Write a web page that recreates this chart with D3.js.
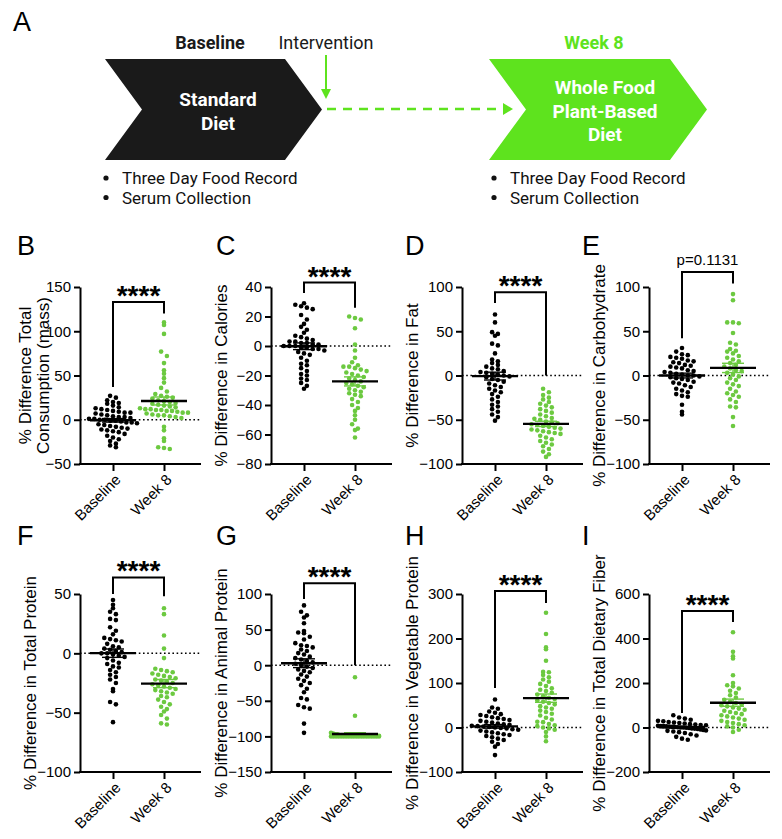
<!DOCTYPE html>
<html><head><meta charset="utf-8">
<script src="https://cdn.jsdelivr.net/npm/d3@7"></script>
<style>
body{margin:0;background:#fff}
text{font-family:"Liberation Sans",Arial,sans-serif}
.diag text{font-family:Roboto,"Liberation Sans",sans-serif}
</style>
</head><body>
<svg id="c" width="782" height="839"></svg>
<script>
// ---------------- data ----------------
const categories = ["Baseline", "Week 8"];
const panelLetters = ["B","C","D","E","F","G","H","I"];
const yLabels = [
  ["% Difference Total","Consumption (mass)"],
  ["% Difference in Calories"],
  ["% Difference in Fat"],
  ["% Difference in Carbohydrate"],
  ["% Difference in Total Protein"],
  ["% Difference in Animal Protein"],
  ["% Difference in Vegetable Protein"],
  ["% Difference in Total Dietary Fiber"]
];
const yDomains = [[-50,150],[-80,40],[-100,100],[-100,100],[-100,50],[-150,100],[-100,300],[-200,600]];
const yTicks = [
  [-50,0,50,100,150],
  [-80,-60,-40,-20,0,20,40],
  [-100,-50,0,50,100],
  [-100,-50,0,50,100],
  [-100,-50,0,50],
  [-150,-100,-50,0,50,100],
  [-100,0,100,200,300],
  [-200,0,200,400,600]
];
const sigLabels = ["****","****","****","p=0.1131","****","****","****","****"];
// bracket: [top, left leg end, right leg end] in data units
const brackets = [[133,37,120],[43,36,26],[94,82,0],[117,42,104],[64,50,48],[115,93,0],[307,89,280],[524,65,474]];

const bBase = [27,25,22,20,19,18,16,14,13,12,11,10,9,8,8,7,6,5,4,3,3,2,1,1,0,0,-1,-1,-2,-3,-3,-4,-5,-6,-7,-8,-9,-10,-11,-12,-13,-14,-16,-18,-20,-22,-24,-27,-29,-31];
const bWk8 = [110,107,97,77,72,64,56,52,47,42,36,32,29,27,26,25,24,22,21,20,19,18,17,16,15,14,13,12,11,10,9,8,7,6,5,4,3,2,11,12,10,8,5,-8,-12,-21,-24,-31,-32,-33];
const cBase = [29,28,27,26,25,21,18,15,13,11,9,7,6,5,4,3,3,2,2,1,1,0,0,0,-1,-1,-2,-2,-3,-4,-5,-6,-8,-10,-12,-13,-15,-17,-19,-20,-22,-23,-25,-27,-29];
const cWk8 = [20,19,18,12,1,-3,-8,-11,-13,-14,-14,-15,-16,-17,-18,-19,-20,-21,-22,-23,-24,-25,-26,-27,-28,-29,-30,-31,-32,-33,-34,-36,-38,-40,-42,-44,-47,-50,-53,-56,-57,-62];
const dBase = [69,60,49,47,45,36,34,25,18,16,14,12,10,8,7,5,4,3,2,1,0,-1,-2,-4,-5,-7,-9,-11,-13,-15,-17,-19,-21,-24,-27,-30,-33,-35,-38,-41,-44,-47,-51];
const dWk8 = [-15,-19,-22,-25,-27,-30,-32,-34,-36,-38,-40,-42,-44,-46,-48,-49,-50,-52,-53,-54,-55,-56,-57,-58,-59,-60,-61,-62,-63,-64,-65,-66,-68,-70,-72,-74,-76,-78,-80,-83,-86,-89,-92];
const eBase = [31,27,24,23,21,20,19,17,16,15,14,12,11,10,9,8,6,5,4,3,2,1,0,0,-1,-2,-3,-4,-5,-7,-8,-9,-11,-13,-15,-17,-19,-21,-23,-24,-33,-41,-44];
const eWk8 = [92,85,60,60,59,48,37,35,30,28,27,25,22,20,18,16,14,12,10,8,6,5,3,1,-1,-3,-5,-8,-10,-12,-15,-18,-20,-22,-24,-27,-30,-35,-36,-47,-57];
const fBase = [45,41,38,35,33,29,28,22,19,16,13,12,11,10,8,6,5,4,3,2,1,0,0,-1,-2,-3,-4,-6,-8,-9,-11,-12,-14,-16,-18,-20,-22,-25,-30,-32,-41,-43,-58];
const fWk8 = [38,33,15,4,-4,-13,-14,-15,-16,-17,-18,-19,-20,-21,-22,-23,-24,-25,-26,-27,-28,-29,-30,-31,-32,-33,-34,-36,-37,-39,-41,-43,-45,-47,-49,-52,-55,-59,-60];
const gBase = [84,75,70,67,59,48,46,45,40,36,31,28,27,25,22,20,17,15,12,10,8,6,4,2,0,-2,-4,-6,-8,-10,-13,-16,-19,-22,-25,-28,-33,-38,-46,-48,-56,-59,-61,-82,-95];
const gWk8 = [-17,-71,-95,-96,-97,-97,-98,-98,-98,-99,-99,-99,-99,-99,-99,-99,-99,-99,-99,-99,-99,-99,-99,-99,-99,-100,-100,-100,-100,-100,-100,-100,-100,-100,-100,-100,-100,-100,-100,-100,-100,-100,-100,-100,-100];
const hBase = [63,45,42,36,33,30,28,26,23,21,19,17,15,13,11,9,7,6,4,3,2,1,0,-1,-2,-4,-5,-7,-9,-11,-13,-15,-17,-19,-22,-25,-28,-32,-37,-43,-62];
const hWk8 = [258,210,180,176,150,125,124,118,113,108,103,98,93,88,85,82,78,74,70,67,64,61,58,55,52,48,45,42,38,35,31,27,22,18,13,12,8,5,3,0,-2,-5,-10,-20,-31];
const iBase = [55,45,40,35,30,28,25,22,20,18,15,13,11,10,8,7,6,5,4,3,2,1,0,0,-1,-2,-4,-5,-7,-9,-11,-13,-15,-18,-21,-25,-30,-36,-42,-50,-55];
const iWk8 = [428,340,320,310,235,200,190,185,175,165,155,145,135,125,115,110,105,100,95,90,85,80,75,70,65,60,55,50,45,40,35,30,25,20,15,10,5,0,-10,-20];

const baseSeries = [bBase,cBase,dBase,eBase,fBase,gBase,hBase,iBase];
const wk8Series = [bWk8,cWk8,dWk8,eWk8,fWk8,gWk8,hWk8,iWk8];

const diagramTop = ["Baseline","Intervention","Week 8"];
const boxText1 = ["Standard","Diet"];
const boxText2 = ["Whole Food","Plant-Based","Diet"];
const bullets = ["Three Day Food Record","Serum Collection"];

// ---------------- style ----------------
const GREEN_DOT = "#6cc940";
const GREEN_CHEV = "#5ee31e";
const BLACK = "#000";

const svg = d3.select("#c");

// ---------------- Panel A ----------------
const gA = svg.append("g").attr("class","diag");
svg.append("text").attr("x",13).attr("y",31).attr("font-size",27).text("A");

function chevron(x0, notch, x1, tip, y0, y1) {
  const ym = (y0+y1)/2;
  return [[x0,y0],[x1,y0],[tip,ym],[x1,y1],[x0,y1],[notch,ym]];
}
const line = d3.line();
gA.append("path").attr("d", line(chevron(105,142,285,322,59,160))+"Z").attr("fill","#1a1a1a");
gA.append("path").attr("d", line(chevron(489,526,670,707,59,160))+"Z").attr("fill",GREEN_CHEV);

gA.append("text").attr("x",210).attr("y",49).attr("text-anchor","middle").attr("font-size",18).attr("font-weight","bold").attr("fill","#1a1a1a").text(diagramTop[0]);
gA.append("text").attr("x",326).attr("y",49).attr("text-anchor","middle").attr("font-size",18).attr("fill","#1a1a1a").text(diagramTop[1]);
gA.append("text").attr("x",594).attr("y",49).attr("text-anchor","middle").attr("font-size",18).attr("font-weight","bold").attr("fill",GREEN_CHEV).text(diagramTop[2]);

boxText1.forEach((t,i)=>gA.append("text").attr("x",218).attr("y",106+i*24).attr("text-anchor","middle").attr("font-size",19).attr("font-weight","bold").attr("fill","#fff").text(t));
boxText2.forEach((t,i)=>gA.append("text").attr("x",605).attr("y",94+i*23.5).attr("text-anchor","middle").attr("font-size",19).attr("font-weight","bold").attr("fill","#fff").text(t));

// intervention arrow
gA.append("line").attr("x1",326).attr("x2",326).attr("y1",55).attr("y2",92).attr("stroke",GREEN_CHEV).attr("stroke-width",2);
gA.append("path").attr("d",line([[321,89],[331,89],[326,99]])+"Z").attr("fill",GREEN_CHEV);
// dashed arrow
gA.append("line").attr("x1",327).attr("x2",504).attr("y1",109).attr("y2",109).attr("stroke",GREEN_CHEV).attr("stroke-width",2.5).attr("stroke-dasharray","9,7");
gA.append("path").attr("d",line([[503,103],[513,109],[503,115]])+"Z").attr("fill",GREEN_CHEV);

[[106,122],[494,510]].forEach(([bx,tx])=>{
  bullets.forEach((t,i)=>{
    gA.append("circle").attr("cx",bx).attr("cy",178+i*19.5).attr("r",2.6).attr("fill","#111");
    gA.append("text").attr("x",tx).attr("y",184+i*19.5).attr("font-size",17).attr("fill","#111").text(t);
  });
});

// ---------------- Scatter panels ----------------
const axX = [80, 271, 462, 649];
const rowTop = [287, 594];
const rowBot = [464, 772];
const letterX = [17, 216, 405, 582];
const letterY = [255, 545];

function swarm(vals, y, cx) {
  const binH = 5.2, dx = 5.8, maxHalf = 24;
  const pts = vals.map(v => ({v, py: y(v)}));
  const bins = d3.groups(pts, d => Math.round(d.py / binH));
  const out = [];
  for (const [, arr] of bins) {
    arr.sort((a,b)=>a.py-b.py);
    const n = arr.length;
    const step = n > 1 ? Math.min(dx, 2*maxHalf/(n-1)) : 0;
    arr.forEach((d,i)=> out.push({x: cx + (i-(n-1)/2)*step, y: d.py}));
  }
  return out;
}

panelLetters.forEach((L, p) => {
  const row = p < 4 ? 0 : 1;
  const col = p % 4;
  const ax = axX[col];
  const y = d3.scaleLinear().domain(yDomains[p]).range([rowBot[row], rowTop[row]]);
  const x = d3.scalePoint().domain(categories).range([ax+33, ax+84]);
  const g = svg.append("g");

  g.append("text").attr("x",letterX[col]).attr("y",letterY[row]).attr("font-size",27).text(L);

  // zero dotted line
  g.append("line").attr("x1",ax).attr("x2",ax+121).attr("y1",y(0)).attr("y2",y(0))
    .attr("stroke","#000").attr("stroke-width",1.5).attr("stroke-dasharray","1.6,2.6");

  // y axis
  const yAx = g.append("g").attr("transform",`translate(${ax},0)`)
    .call(d3.axisLeft(y).tickValues(yTicks[p]).tickSize(6).tickSizeOuter(0).tickPadding(3));
  yAx.select(".domain").attr("stroke-width",2).attr("stroke","#000");
  yAx.selectAll(".tick line").attr("stroke-width",2).attr("stroke","#000");
  yAx.selectAll(".tick text").attr("font-size",15).attr("fill","#000");

  // x axis
  const yb = rowBot[row];
  const xAx = g.append("g").attr("transform",`translate(0,${yb})`)
    .call(d3.axisBottom(x).tickSize(7).tickSizeOuter(0).tickFormat(""));
  xAx.select(".domain").remove();
  xAx.selectAll(".tick line").attr("stroke-width",2).attr("stroke","#000");
  g.append("line").attr("x1",ax-1).attr("x2",ax+121).attr("y1",yb).attr("y2",yb).attr("stroke","#000").attr("stroke-width",2);
  categories.forEach(c=>{
    g.append("text").attr("transform",`translate(${x(c)+5},${yb+13}) rotate(-45)`)
      .attr("text-anchor","end").attr("dy","0.35em").attr("font-size",15).attr("fill","#000").text(c);
  });

  // y label
  const ymid = (rowTop[row]+rowBot[row])/2;
  const labs = yLabels[p];
  const centers = labs.length === 2 ? [ax-55, ax-37] : [ax-50];
  labs.forEach((t,i)=>{
    g.append("text").attr("transform",`translate(${centers[i]+6},${ymid}) rotate(-90)`)
      .attr("text-anchor","middle").attr("font-size",17).attr("fill","#000").text(t);
  });

  // dots
  const series = [baseSeries[p], wk8Series[p]];
  const colors = [BLACK, GREEN_DOT];
  series.forEach((vals, k) => {
    const cx = x(categories[k]);
    g.append("g").selectAll("circle").data(swarm(vals, y, cx)).join("circle")
      .attr("cx", d=>d.x).attr("cy", d=>d.y).attr("r", 2.3).attr("fill", colors[k]);
  });
  // mean + SEM
  series.forEach((vals, k) => {
    const cx = x(categories[k]);
    const m = d3.mean(vals);
    const sem = d3.deviation(vals)/Math.sqrt(vals.length);
    const eg = g.append("g").attr("stroke", colors[k]).attr("stroke-width",1.4);
    eg.append("line").attr("x1",cx).attr("x2",cx).attr("y1",y(m+sem)).attr("y2",y(m-sem));
    eg.append("line").attr("x1",cx-11).attr("x2",cx+11).attr("y1",y(m+sem)).attr("y2",y(m+sem));
    eg.append("line").attr("x1",cx-11).attr("x2",cx+11).attr("y1",y(m-sem)).attr("y2",y(m-sem));
    g.append("line").attr("x1",cx-23).attr("x2",cx+23).attr("y1",y(m)).attr("y2",y(m)).attr("stroke","#000").attr("stroke-width",2.4);
  });

  // significance bracket
  const [bt, bl, br] = brackets[p];
  const x0 = x(categories[0]), x1 = x(categories[1]);
  g.append("path").attr("d", line([[x0,y(bl)],[x0,y(bt)],[x1,y(bt)],[x1,y(br)]]))
    .attr("fill","none").attr("stroke","#000").attr("stroke-width",2);
  const isStar = sigLabels[p].startsWith("*");
  g.append("text").attr("x",(x0+x1)/2).attr("y", isStar ? y(bt)+3 : y(bt)-7)
    .attr("text-anchor","middle").attr("font-size", isStar ? 28 : 15)
    .attr("font-weight", isStar ? "bold" : "normal").attr("fill","#000").text(sigLabels[p]);
});
</script>
</body></html>
